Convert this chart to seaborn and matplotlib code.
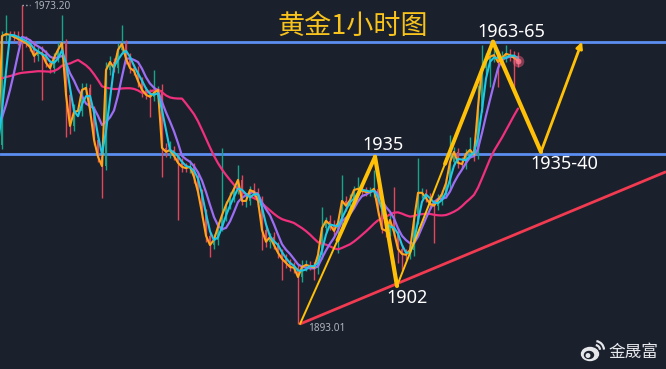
import numpy as np
import pandas as pd
import matplotlib
matplotlib.use('Agg')
import matplotlib.pyplot as plt
import seaborn as sns
from matplotlib.patches import Ellipse, Arc

# bars before the left edge, they only feed the moving averages
warmup_close = [1957.0, 1958.5, 1959.6, 1958.2, 1957.1, 1958.8, 1960.3, 1959.0, 1957.6, 1958.4,
                1959.9, 1958.7, 1957.3, 1955.2, 1951.0, 1945.9, 1942.2, 1938.5, 1936.0, 1937.2]

close = [1964.1, 1964.6, 1964.4, 1963.9, 1963.4, 1962.9, 1962.4, 1961.4, 1959.2, 1960.2,
         1959.7, 1957.5, 1956.2, 1958.7, 1960.7, 1962.4, 1949.6, 1941.9, 1945.4, 1945.6,
         1950.8, 1951.3, 1945.9, 1938.5, 1934.3, 1932.0, 1955.7, 1957.7, 1956.2, 1960.7,
         1962.2, 1958.5, 1956.2, 1955.5, 1953.0, 1950.8, 1949.6, 1949.1, 1950.1, 1950.8,
         1936.5, 1935.5, 1936.0, 1934.5, 1932.8, 1931.8, 1931.5, 1931.8, 1929.3, 1925.6,
         1920.4, 1914.8, 1912.5, 1913.8, 1917.0, 1919.9, 1922.4, 1924.4, 1926.4, 1928.6,
         1923.4, 1923.4, 1926.1, 1925.6, 1923.4, 1916.2, 1913.3, 1914.5, 1912.5, 1910.6,
         1909.1, 1908.1, 1907.1, 1906.9, 1904.6, 1907.1, 1907.6, 1907.3, 1906.9, 1910.1,
         1916.7, 1918.5, 1917.5, 1916.0, 1918.0, 1923.4, 1922.2, 1923.6, 1926.1, 1926.4,
         1925.9, 1925.6, 1925.6, 1926.4, 1921.2, 1916.5, 1916.0, 1918.7, 1915.7, 1911.5,
         1910.3, 1910.1, 1911.3, 1918.7, 1925.4, 1925.4, 1924.1, 1922.7, 1922.2, 1923.6,
         1925.1, 1927.8, 1933.0, 1935.5, 1932.8, 1932.5, 1935.0, 1936.0, 1934.8, 1946.6,
         1956.2, 1958.0, 1959.0, 1959.4, 1957.7, 1958.7, 1959.7, 1959.4, 1958.7, 1958.0]

wick_up = [1.2, 4.7, 0.8, 1.0, 1.5, 8.4, 1.2, 0.9, 1.6, 1.1,
           1.4, 1.0, 0.8, 1.3, 1.9, 6.9, 1.0, 1.2, 2.0, 1.1,
           1.6, 1.3, 0.9, 1.0, 0.8, 1.1, 2.0, 1.4, 1.0, 1.8,
           4.7, 1.0, 1.3, 0.9, 1.2, 1.0, 0.8, 1.5, 5.6, 1.0,
           1.4, 1.1, 2.3, 1.0, 0.8, 1.2, 1.0, 1.6, 0.9, 1.0,
           0.8, 1.1, 1.0, 1.4, 1.2, 16.6, 1.0, 1.3, 0.9, 3.7,
           1.2, 1.5, 1.0, 1.8, 0.9, 1.1, 1.3, 1.0, 1.2, 0.8,
           1.0, 1.3, 0.9, 1.1, 1.0, 1.6, 1.2, 0.9, 1.0, 1.4,
           5.2, 1.0, 1.3, 1.1, 0.9, 6.4, 1.2, 1.5, 1.0, 2.9,
           1.1, 0.9, 1.3, 4.6, 1.0, 1.2, 0.9, 1.4, 8.2, 1.0,
           1.0, 1.2, 0.8, 1.1, 8.6, 1.3, 1.0, 1.2, 0.9, 1.4,
           1.0, 1.3, 6.7, 1.1, 1.0, 1.4, 1.2, 3.2, 1.0, 5.4,
           5.8, 2.0, 1.5, 1.8, 1.2, 1.6, 2.2, 1.3, 1.0, 1.5]

wick_dn = [1.0, 1.3, 1.2, 0.9, 1.4, 7.2, 1.1, 1.0, 1.5, 1.2,
           11.4, 1.0, 1.3, 1.1, 0.9, 1.5, 10.4, 2.0, 1.2, 1.0,
           1.3, 1.0, 1.6, 1.2, 1.4, 7.9, 1.0, 1.2, 0.9, 1.1,
           1.0, 1.4, 1.2, 1.0, 1.5, 1.8, 1.1, 5.0, 1.0, 1.3,
           7.2, 1.2, 1.6, 1.0, 14.1, 1.3, 1.0, 1.2, 1.5, 1.1,
           1.3, 1.6, 2.9, 1.0, 1.2, 1.1, 1.4, 1.0, 1.3, 1.2,
           1.1, 1.4, 1.0, 1.2, 1.6, 4.9, 1.2, 1.5, 1.0, 1.3,
           5.2, 1.2, 1.0, 1.4, 11.6, 1.3, 1.1, 1.0, 3.0, 1.5,
           1.0, 1.3, 1.2, 1.0, 5.4, 1.1, 1.4, 1.0, 1.2, 1.0,
           1.3, 1.1, 1.0, 1.2, 1.4, 1.0, 1.6, 1.2, 1.0, 3.5,
           4.0, 1.2, 1.0, 1.4, 1.1, 1.3, 1.0, 1.2, 9.2, 1.0,
           1.2, 1.0, 1.4, 1.1, 1.3, 1.0, 1.2, 1.0, 1.5, 1.0,
           1.2, 1.4, 6.5, 1.3, 6.2, 1.2, 1.0, 1.4, 7.9, 1.6]

# horizontal levels, zigzag path and support line
levels = [1962.7, 1935.0]
zig_x = [74.5, 93.25, 98.75, 122.75, 134.75, 145.0]
zig_y = [1893.01, 1934.3, 1902.4, 1962.7, 1935.5, 1962.7]
trend_x = [74.5, 166.0]
trend_y = [1893.01, 1930.6]

bg = '#1b202d'
yellow = '#ffc107'

sns.set_style('dark', rc={'axes.facecolor': bg, 'figure.facecolor': bg})
plt.rcParams['font.family'] = ['Noto Sans', 'Noto Sans CJK SC', 'DejaVu Sans']

fig = plt.figure(figsize=(6.66, 3.69), dpi=100)
ax = fig.add_axes([0, 0, 1, 1])
ax.set_axis_off()

n = len(close)
idx = np.arange(n)
c = np.array(close)
o = np.array([warmup_close[-1]] + close[:-1])
hi = np.maximum(o, c) + np.array(wick_up)
lo = np.minimum(o, c) - np.array(wick_dn)

# moving averages over warm-up + visible bars
allc = pd.Series(warmup_close + close)
all_idx = np.arange(-len(warmup_close), n)
ma = pd.DataFrame({'x': all_idx, 'c': allc,
                   'ma3': allc.rolling(3).mean(),
                   'ma6': allc.rolling(6).mean(),
                   'ma20': allc.rolling(20).mean()})
ma = ma[ma['x'] >= -3]

for lv in levels:
    ax.axhline(lv, color='#5b8ef0', lw=2, zorder=1)

# candles
up = c >= o
cols = np.where(up, '#17a589', '#e0485a')
ax.vlines(idx, lo, hi, colors=cols, lw=1, zorder=2)
body = np.maximum(np.abs(c - o), 0.25)
ax.bar(idx, body, bottom=np.minimum(o, c), width=0.6, color=cols, zorder=2, linewidth=0)

sns.lineplot(data=ma, x='x', y='ma20', color='#f0307c', lw=1.6, ax=ax, zorder=3)
sns.lineplot(data=ma, x='x', y='ma6', color='#9b6ef3', lw=1.6, ax=ax, zorder=4)
sns.lineplot(data=ma[ma['x'] >= -1], x='x', y='c', color='#ffa41b', lw=1.5, ax=ax, zorder=5)
sns.lineplot(data=ma, x='x', y='ma3', color='#1fc8e3', lw=1.5, ax=ax, zorder=6)

# current price glow
ax.scatter([idx[-1]], [close[-1]], s=70, color='#ff5f7e', alpha=0.45, zorder=7, linewidths=0)
ax.scatter([idx[-1]], [close[-1]], s=18, color='#ff7d95', alpha=0.8, zorder=7, linewidths=0)

# support line
ax.plot(trend_x, trend_y, color='#f23a50', lw=2, zorder=8, solid_capstyle='butt')

# zigzag
segw = [1.4, 3.0, 1.4, 3.0]
for k in range(4):
    ax.plot(zig_x[k:k + 2], zig_y[k:k + 2], color=yellow, lw=segw[k], zorder=9,
            solid_capstyle='round')
for k in (0, 2):
    x0, x1 = zig_x[k], zig_x[k + 1]
    y0, y1 = zig_y[k], zig_y[k + 1]
    t = 0.5
    ax.plot([x0 + t * (x1 - x0), x1], [y0 + t * (y1 - y0), y1], color=yellow, lw=2.8,
            zorder=9, solid_capstyle='round')
ax.annotate('', xy=(zig_x[5], zig_y[5]), xytext=(zig_x[4], zig_y[4]),
            arrowprops=dict(arrowstyle='-|>', color=yellow, lw=2, mutation_scale=9,
                            shrinkA=0, shrinkB=0), zorder=9)

# labels
lab = dict(color='white', fontsize=13, ha='center', va='center', zorder=10,
           textcoords='offset points')
ax.annotate('1935', (zig_x[1], zig_y[1]), xytext=(5.8, 8.6), **lab)
ax.annotate('1902', (zig_x[2], zig_y[2]), xytext=(7.2, -8.6), **lab)
ax.annotate('1963-65', (zig_x[3], zig_y[3]), xytext=(13, 7.2), **lab)
ax.annotate('1935-40', (zig_x[4], zig_y[4]), xytext=(16.6, -8.6), **lab)

gray = '#aeb3bd'
top_i = int(np.argmax(hi))
low_i = int(np.argmin(lo))
ax.plot([top_i, top_i + 2.0], [hi[top_i]] * 2, color=gray, lw=1, ls=':', zorder=10)
ax.annotate('1973.20', (top_i, hi[top_i]), xytext=(7.9, -1.4), textcoords='offset points',
            color=gray, fontsize=7.2, ha='left', va='center')
ax.annotate('1893.01', (low_i, lo[low_i]), xytext=(7.5, -3), textcoords='offset points',
            color=gray, fontsize=7.2, ha='left', va='center')

fig.text(353 / 666, 1 - 26 / 369, '黄金1小时图', color='#f7c31c', fontsize=19.5,
         ha='center', va='center', family=['Noto Sans CJK SC'])

# watermark with a simple weibo-like logo
wm = '#e6e7ea'
fig.text(633 / 666, 1 - 352 / 369, '金晟富', color=wm, fontsize=12,
         ha='center', va='center', family=['Noto Sans CJK SC'])
W, H = 666.0, 369.0
fig.patches.append(Ellipse((590 / W, 1 - 354 / H), 17 / W, 13 / H, color=wm,
                           transform=fig.transFigure))
fig.patches.append(Ellipse((589 / W, 1 - 355 / H), 9 / W, 7 / H, color=bg,
                           transform=fig.transFigure))
fig.patches.append(Ellipse((588 / W, 1 - 355.5 / H), 3.5 / W, 3.5 / H, color=wm,
                           transform=fig.transFigure))
for r in (5, 9):
    fig.patches.append(Arc((595 / W, 1 - 350 / H), 2 * r / W, 2 * r / H, theta1=5,
                           theta2=85, color=wm, lw=1.6, transform=fig.transFigure))

ax.set_xlim(-0.5, 166)
ax.set_ylim(1881.9, 1973.0)

fig.savefig('out.png', dpi=100, facecolor=bg)
